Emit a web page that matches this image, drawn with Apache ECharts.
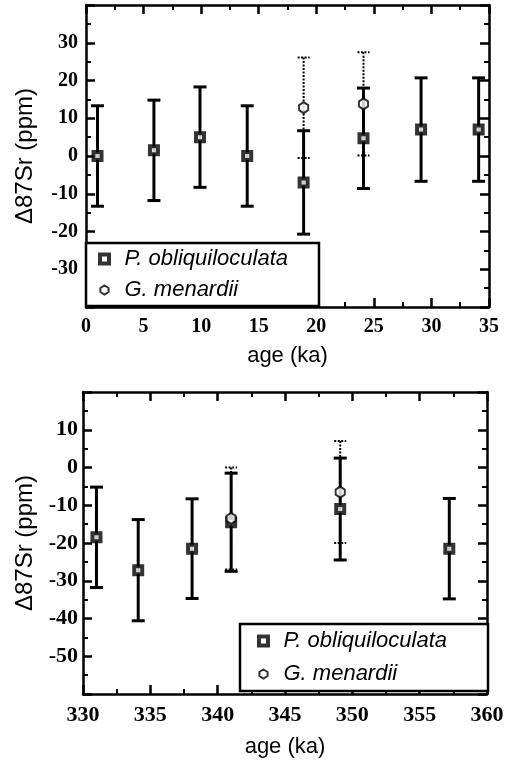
<!DOCTYPE html>
<html>
<head>
<meta charset="utf-8">
<script src="https://cdn.jsdelivr.net/npm/echarts@6/dist/echarts.min.js"></script>
<style>html,body{margin:0;padding:0;background:#fff;}#c{width:518px;height:765px;}</style>
</head>
<body>
<div id="c"></div>
<script>
// ---- Top panel (0-35 ka) ----
const topAgeP = [1, 5.9, 9.9, 14, 18.9, 24.1, 29.1, 34.1];
const topValP = [0, 1.5, 5, 0, -7, 4.7, 7, 7];
const topErrP = [13.3, 13.3, 13.3, 13.3, 13.7, 13.3, 13.7, 13.7];
const topAgeG = [18.9, 24.1];
const topValG = [12.8, 13.8];
const topErrG = [13.3, 13.7];

// ---- Bottom panel (330-360 ka) ----
const botAgeP = [331, 334.1, 338.1, 341, 349.1, 357.2];
const botValP = [-18.5, -27.2, -21.5, -14.5, -11, -21.5];
const botErrP = [13.3, 13.4, 13.2, 13, 13.5, 13.3];
const botAgeG = [341, 349.1];
const botValG = [-13.5, -6.5];
const botErrG = [13.5, 13.5];

const nameP = 'P. obliquiloculata';
const nameG = 'G. menardii';
const yName = 'Δ87Sr (ppm)';
const xName = 'age (ka)';

function triples(a, v, e) { return a.map((x, i) => [x, v[i], e[i]]); }
function pairs(a, v) { return a.map((x, i) => [x, v[i]]); }

const serif = '"Liberation Serif","Times New Roman",serif';
const sans = '"Liberation Sans",Arial,Helvetica,sans-serif';

function errRender(style, capW) {
  return function (params, api) {
    const x = api.value(0), y = api.value(1), e = api.value(2);
    const t = api.coord([x, y + e]);
    const b = api.coord([x, y - e]);
    const hw = capW / 2;
    return {
      type: 'group',
      children: [
        { type: 'line', shape: { x1: t[0], y1: t[1], x2: b[0], y2: b[1] }, style: style },
        { type: 'line', shape: { x1: t[0] - hw, y1: t[1], x2: t[0] + hw, y2: t[1] }, style: style },
        { type: 'line', shape: { x1: b[0] - hw, y1: b[1], x2: b[0] + hw, y2: b[1] }, style: style }
      ]
    };
  };
}

const lineSt = { color: '#000', width: 2.5 };

function xAxes(grid, min, max, fontSize, nameGap) {
  return [
    {
      gridIndex: grid, type: 'value', min: min, max: max, interval: 5, position: 'bottom',
      name: xName, nameLocation: 'middle', nameGap: nameGap,
      nameTextStyle: { fontFamily: sans, fontSize: 22, color: '#000' },
      axisLine: { show: true, onZero: false, lineStyle: lineSt },
      axisTick: { show: true, inside: true, length: 9, lineStyle: { color: '#000', width: 2.5 } },
      minorTick: { show: true, splitNumber: 2, length: 5, lineStyle: { color: '#000', width: 2 } },
      axisLabel: { fontFamily: serif, fontSize: fontSize, fontWeight: 'bold', color: '#000', margin: 10 },
      splitLine: { show: false }
    },
    {
      gridIndex: grid, type: 'value', min: min, max: max, interval: 5, position: 'top',
      axisLine: { show: true, onZero: false, lineStyle: lineSt },
      axisTick: { show: true, inside: true, length: 9, lineStyle: { color: '#000', width: 2.5 } },
      minorTick: { show: true, splitNumber: 2, length: 5, lineStyle: { color: '#000', width: 2 } },
      axisLabel: { show: false },
      splitLine: { show: false }
    }
  ];
}

function yAxes(grid, min, max, fontSize, nameGap, margin) {
  return [
    {
      gridIndex: grid, type: 'value', min: min, max: max, interval: 10, position: 'left',
      name: yName, nameLocation: 'middle', nameGap: nameGap, nameRotate: 90,
      nameTextStyle: { fontFamily: sans, fontSize: 24, color: '#000' },
      axisLine: { show: true, onZero: false, lineStyle: lineSt },
      axisTick: { show: true, inside: true, length: 9, lineStyle: { color: '#000', width: 2.5 } },
      minorTick: { show: true, splitNumber: 2, length: 5, lineStyle: { color: '#000', width: 2 } },
      axisLabel: { fontFamily: serif, fontSize: fontSize, fontWeight: 'bold', color: '#000', margin: margin,
        showMinLabel: false, showMaxLabel: false },
      splitLine: { show: false }
    },
    {
      gridIndex: grid, type: 'value', min: min, max: max, interval: 10, position: 'right',
      axisLine: { show: true, onZero: false, lineStyle: lineSt },
      axisTick: { show: true, inside: true, length: 9, lineStyle: { color: '#000', width: 2.5 } },
      minorTick: { show: true, splitNumber: 2, length: 5, lineStyle: { color: '#000', width: 2 } },
      axisLabel: { show: false },
      splitLine: { show: false }
    }
  ];
}

const solidSt = { stroke: '#000', lineWidth: 3, fill: null };
const dotSt = { stroke: '#000', lineWidth: 2, lineDash: [2, 1.5], fill: null };
const symP = 'path://M0,0 L10,0 L10,10 L0,10 Z';
const symG = 'path://M5,0 L10,3 L10,8 L5,11 L0,8 L0,3 Z';
const styP = { color: '#fff', borderColor: '#000', borderWidth: 4 };
const styG = { color: '#fff', borderColor: '#000', borderWidth: 2 };

function panelSeries(xi, yi, aP, vP, eP, aG, vG, eG) {
  return [
    { type: 'custom', name: 'errP' + xi, xAxisIndex: xi, yAxisIndex: yi, data: triples(aP, vP, eP),
      encode: { x: 0, y: 1 }, renderItem: errRender(solidSt, 13), z: 3, silent: true },
    { type: 'custom', name: 'errG' + xi, xAxisIndex: xi, yAxisIndex: yi, data: triples(aG, vG, eG),
      encode: { x: 0, y: 1 }, renderItem: errRender(dotSt, 12), z: 4, silent: true },
    { type: 'scatter', name: nameP, xAxisIndex: xi, yAxisIndex: yi, data: pairs(aP, vP),
      symbol: symP, symbolSize: 8, symbolKeepAspect: true, itemStyle: styP, z: 5 },
    { type: 'scatter', name: nameG, xAxisIndex: xi, yAxisIndex: yi, data: pairs(aG, vG),
      symbol: symG, symbolSize: [10, 11], symbolKeepAspect: true, itemStyle: styG, z: 6 }
  ];
}

function legend(left, top, pad, gap) {
  return {
    left: left, top: top, orient: 'vertical', padding: pad, itemGap: gap,
    itemWidth: 30, itemHeight: 9,
    backgroundColor: '#fff', borderColor: '#000', borderWidth: 2.5,
    textStyle: { fontFamily: sans, fontStyle: 'italic', fontSize: 22, color: '#000' },
    data: [
      { name: nameP, icon: symP, itemStyle: styP },
      { name: nameG, icon: symG, itemStyle: styG }
    ],
    selectedMode: false, z: 10
  };
}

const option = {
  animation: false,
  backgroundColor: '#fff',
  grid: [
    { left: 86, right: 29, top: 5, height: 302 },
    { left: 83, right: 31, top: 392, height: 302 }
  ],
  xAxis: [].concat(xAxes(0, 0, 35, 20, 38), xAxes(1, 330, 360, 22, 42)),
  yAxis: [].concat(yAxes(0, -40, 40, 20, 49, 8), yAxes(1, -60, 20, 22, 43, 5)),
  legend: [
    legend(86, 243, [5, 31, 5, 12], 9),
    legend(240, 624, [6, 41, 6, 17], 11)
  ],
  series: [].concat(
    panelSeries(0, 0, topAgeP, topValP, topErrP, topAgeG, topValG, topErrG),
    panelSeries(2, 2, botAgeP, botValP, botErrP, botAgeG, botValG, botErrG)
  )
};

const chart = echarts.init(document.getElementById('c'), null, { renderer: 'canvas' });
chart.setOption(option);
</script>
</body>
</html>
